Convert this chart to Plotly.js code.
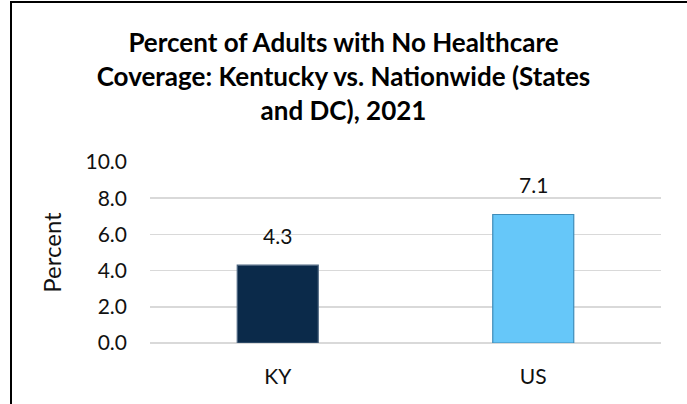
<!DOCTYPE html>
<html>
<head>
<meta charset="utf-8">
<script src="https://cdn.plot.ly/plotly-3.0.1.min.js"></script>
<style>
  html, body { margin: 0; padding: 0; background: #fff; }
  #wrap { position: relative; width: 687px; height: 404px; overflow: hidden; }
  #chart { width: 687px; height: 404px; }
  #frame { position: absolute; left: 10px; top: 1px; width: 700px; height: 420px;
           border-left: 2px solid #000; border-top: 2px solid #000; pointer-events: none; }
</style>
</head>
<body>
<div id="wrap">
  <div id="chart"></div>
  <div id="frame"></div>
</div>
<script>
const categories = ['KY', 'US'];
const percentValues = [4.3, 7.1];
const valueLabels = ['4.3', '7.1'];
const barColors = ['#0b2a4a', '#66c7f9'];
const barEdgeColors = ['#4d6680', '#3f8cb8'];
const yTickValues = [0, 2, 4, 6, 8, 10];
const yTickLabels = ['0.0', '2.0', '4.0', '6.0', '8.0', '10.0'];

const FONT = 'Lato, "Open Sans", "DejaVu Sans", sans-serif';

const trace = {
  type: 'bar',
  x: categories,
  y: percentValues,
  marker: { color: barColors, line: { color: barEdgeColors, width: 1.2 } },
  hoverinfo: 'skip'
};

const annotations = categories.map((c, i) => ({
  x: c, y: percentValues[i], xref: 'x', yref: 'y',
  text: valueLabels[i], showarrow: false,
  yanchor: 'bottom', yshift: 15,
  font: { family: FONT, size: 21, color: '#111' }
}));

const layout = {
  width: 687, height: 404,
  margin: { l: 150, r: 26, t: 162, b: 61 },
  paper_bgcolor: '#fff', plot_bgcolor: '#fff',
  showlegend: false,
  bargap: 0.683,
  title: {
    text: '<b>Percent of Adults with No Healthcare<br>Coverage: Kentucky vs. Nationwide (States<br>and DC), 2021</b>',
    x: 0.5, xref: 'container', xanchor: 'center',
    y: 1 - 52 / 404, yref: 'container', yanchor: 'top',
    pad: { t: 0, b: 0 },
    font: { family: FONT, size: 26, color: '#000' }
  },
  xaxis: {
    type: 'category',
    showgrid: false, zeroline: false, showline: false,
    ticks: '', ticklabelstandoff: 19,
    tickfont: { family: FONT, size: 21, color: '#111' },
    fixedrange: true
  },
  yaxis: {
    range: [0, 10],
    tickvals: yTickValues, ticktext: yTickLabels,
    showgrid: true, gridcolor: '#d9d9d9', gridwidth: 1.5,
    zeroline: true, zerolinecolor: '#d9d9d9', zerolinewidth: 1.5,
    showline: false, ticks: '', ticklabelstandoff: 22,
    tickfont: { family: FONT, size: 21, color: '#111' },
    title: { text: 'Percent', standoff: 17, font: { family: FONT, size: 24, color: '#111' } },
    automargin: false,
    fixedrange: true
  },
  annotations: annotations
};

Plotly.newPlot('chart', [trace], layout, { staticPlot: true, displayModeBar: false });
</script>
</body>
</html>
